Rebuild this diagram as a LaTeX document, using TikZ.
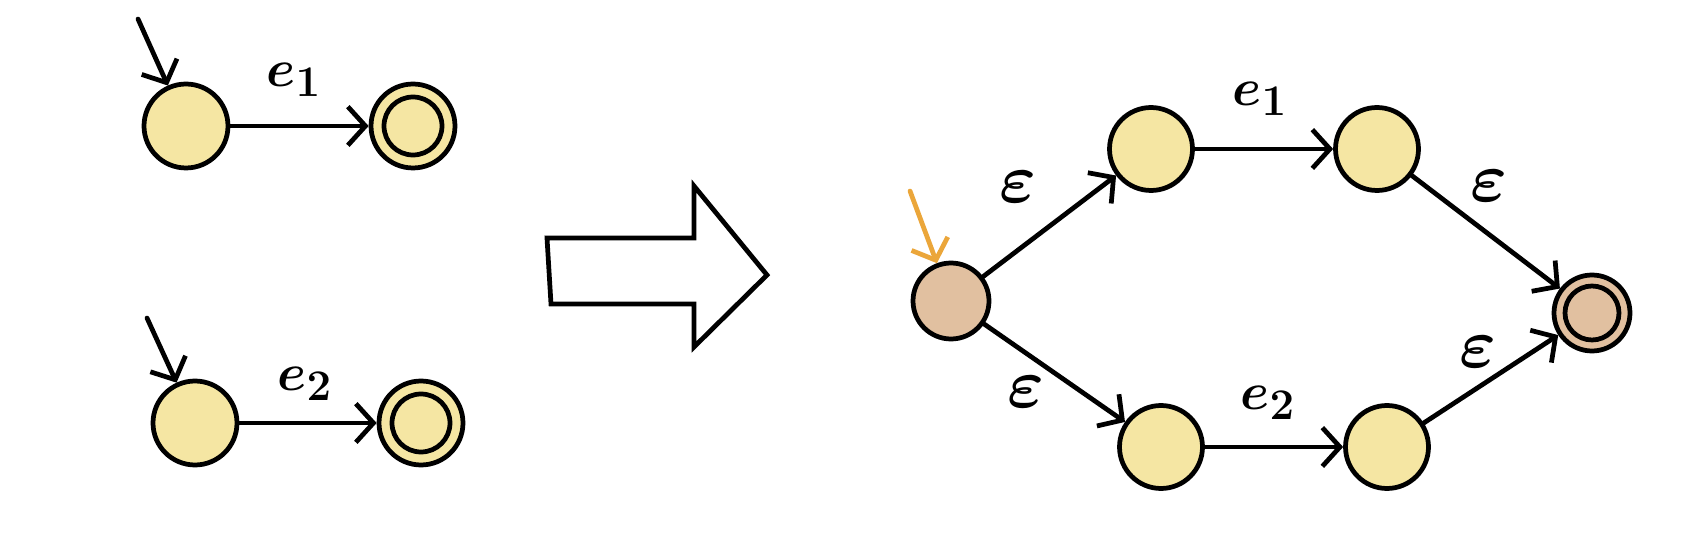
\documentclass[tikz,border=0pt]{standalone}
\usepackage{amsmath}
\usetikzlibrary{arrows.meta}
\definecolor{nfayellow}{HTML}{F5E6A3}
\definecolor{nfabrown}{HTML}{E1C0A0}
\definecolor{nfaorange}{HTML}{EBA63A}

\begin{document}
\begin{tikzpicture}[x=0.02cm, y=-0.02cm, line width=2.7pt,
  nfastate/.style={circle, draw=black, fill=#1, minimum size=1.68cm, inner sep=0pt},
  nfastate/.default=nfayellow,
  nfainner/.style={circle, draw=black, fill=#1, minimum size=1.16cm, inner sep=0pt},
  nfainner/.default=nfayellow,
  trans/.style={-{Straight Barb[length=10pt,width=22pt]}, line cap=round},
  lbl/.style={font=\Huge\boldmath, inner sep=0pt, scale=1.2},
  epsl/.style={font=\Huge\boldmath, inner sep=0pt, scale=1.6}
]
\useasboundingbox (0,0) rectangle (1698,540);

% Automaton for e1
\node[nfastate] (a0) at (186,126) {};
\node[nfastate] (a1) at (413,126) {};
\node[nfainner] (a1in) at (a1) {};
\coordinate (a0start) at (138,19);
\draw[trans] (a0start) -- (a0);
\draw[trans] (a0) -- (a1);
\node[lbl] (la) at (294,80) {$e_1$};

% Automaton for e2
\node[nfastate] (b0) at (195,423) {};
\node[nfastate] (b1) at (421,423) {};
\node[nfainner] (b1in) at (b1) {};
\coordinate (b0start) at (147,318);
\draw[trans] (b0start) -- (b0);
\draw[trans] (b0) -- (b1);
\node[lbl] (lb) at (305,384) {$e_2$};

% Big arrow
\draw[line join=miter] (547,238) -- (694,238) -- (694,186) -- (767,275)
  -- (694,347) -- (694,304) -- (551,304) -- cycle;

% Union automaton
\node[nfastate=nfabrown, minimum size=1.52cm] (s) at (951,301) {};
\node[nfastate, minimum size=1.66cm] (u0) at (1151,149) {};
\node[nfastate, minimum size=1.66cm] (u1) at (1377,149) {};
\node[nfastate, minimum size=1.66cm] (d0) at (1161,447) {};
\node[nfastate, minimum size=1.66cm] (d1) at (1387,447) {};
\node[nfastate=nfabrown, minimum size=1.52cm] (f) at (1592,313) {};
\node[nfainner=nfabrown, minimum size=1.08cm] (fin) at (f) {};
\coordinate (sstart) at (910,191);
\draw[trans, nfaorange] (sstart) -- (s);

\draw[trans] (s) -- (u0);
\draw[trans] (u0) -- (u1);
\draw[trans] (u1) -- (f);
\draw[trans] (s) -- (d0);
\draw[trans] (d0) -- (d1);
\draw[trans] (d1) -- (f);

\node[epsl] (le1) at (1018,187) {$\varepsilon$};
\node[lbl] (le2) at (1260,99) {$e_1$};
\node[epsl] (le3) at (1489,186) {$\varepsilon$};
\node[epsl] (le4) at (1026,392) {$\varepsilon$};
\node[lbl] (le5) at (1268,403) {$e_2$};
\node[epsl] (le6) at (1478,352) {$\varepsilon$};

\end{tikzpicture}
\end{document}
